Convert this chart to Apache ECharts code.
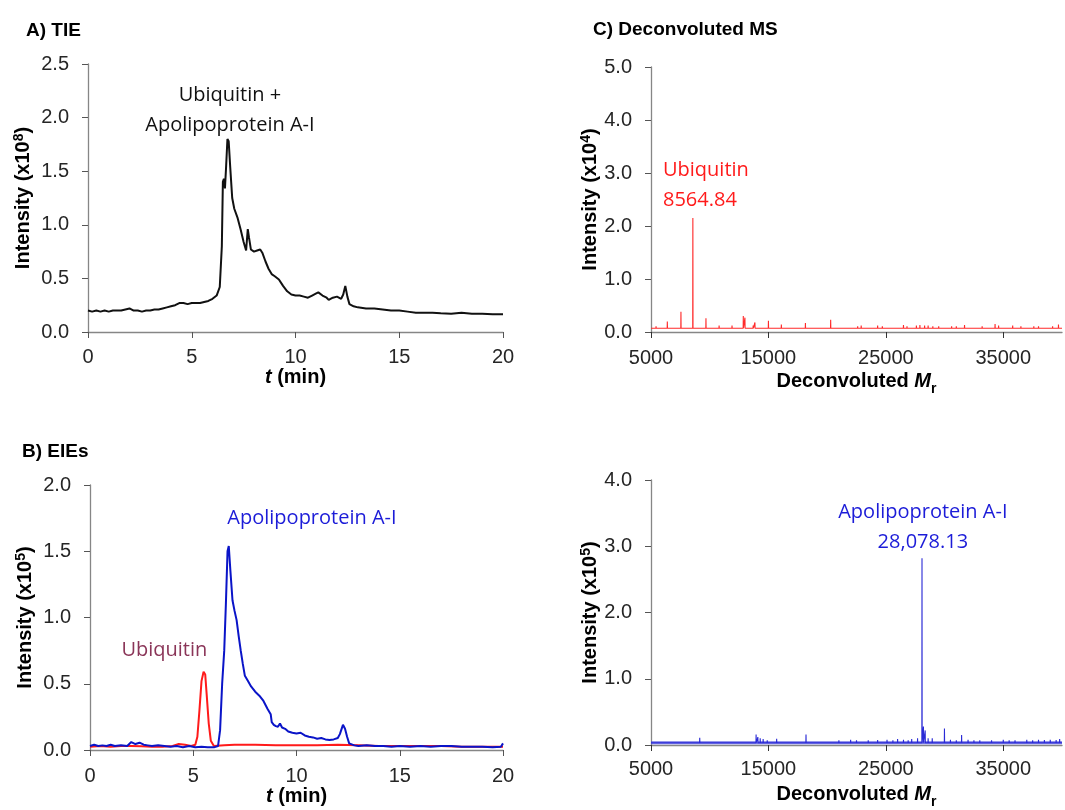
<!DOCTYPE html>
<html>
<head>
<meta charset="utf-8">
<title>TIE / EIE / Deconvoluted MS</title>
<script src="https://cdn.jsdelivr.net/npm/echarts@6.0.0/dist/echarts.min.js"></script>
<style>
  html, body { margin: 0; padding: 0; background: #fff; }
  #chart { width: 1065px; height: 810px; }
</style>
</head>
<body>
<div id="chart"></div>
<script>
// A) TIE  (intensity x10^8)
var tieTime = [0.0, 0.2, 0.4, 0.6, 0.8, 1.0, 1.2, 1.4, 1.6, 1.8, 2.0, 2.2, 2.4, 2.6, 2.8, 3.0, 3.2, 3.4, 3.6, 3.8,
  4.0, 4.2, 4.4, 4.6, 4.8, 5.0, 5.2, 5.4, 5.6, 5.8, 6.0, 6.2, 6.35, 6.45, 6.5, 6.55, 6.6, 6.65, 6.72, 6.78,
  6.85, 6.95, 7.05, 7.2, 7.35, 7.5, 7.62, 7.7, 7.76, 7.85, 8.0, 8.15, 8.3, 8.4, 8.55, 8.7, 8.85, 9.0, 9.2, 9.4,
  9.6, 9.8, 10.0, 10.2, 10.4, 10.6, 10.8, 11.0, 11.1, 11.3, 11.5, 11.6, 11.8, 12.0, 12.2, 12.3, 12.4, 12.5, 12.6, 12.8,
  13.0, 13.4, 13.8, 14.2, 14.6, 15.0, 15.4, 15.8, 16.2, 16.6, 17.0, 17.5, 18.0, 18.5, 19.0, 19.5, 20.0];
var tieInt = [0.20, 0.19, 0.20, 0.19, 0.20, 0.19, 0.20, 0.20, 0.20, 0.21, 0.22, 0.20, 0.20, 0.19, 0.20, 0.20, 0.21, 0.21, 0.22, 0.23,
  0.24, 0.25, 0.27, 0.27, 0.26, 0.27, 0.27, 0.27, 0.28, 0.29, 0.31, 0.34, 0.42, 0.80, 1.40, 1.43, 1.34, 1.52, 1.80, 1.78,
  1.55, 1.25, 1.15, 1.07, 0.96, 0.84, 0.76, 0.96, 0.88, 0.77, 0.75, 0.76, 0.77, 0.74, 0.66, 0.59, 0.54, 0.52, 0.49, 0.43,
  0.38, 0.35, 0.34, 0.34, 0.33, 0.32, 0.34, 0.36, 0.37, 0.34, 0.32, 0.30, 0.32, 0.33, 0.31, 0.35, 0.43, 0.33, 0.26, 0.24,
  0.23, 0.22, 0.22, 0.21, 0.20, 0.20, 0.19, 0.18, 0.18, 0.18, 0.175, 0.17, 0.18, 0.17, 0.17, 0.165, 0.165];

// B) EIEs  (intensity x10^5)
var ubqTime = [0, 0.5, 1, 1.5, 2, 2.5, 3, 3.5, 4, 4.3, 4.6, 4.9, 5.1, 5.2, 5.3, 5.4, 5.5, 5.58, 5.65, 5.75,
  5.85, 6.0, 6.5, 7, 8, 9, 10, 11, 12, 13, 14, 15, 16, 17, 18, 19, 20];
var ubqInt = [0.025, 0.03, 0.025, 0.03, 0.03, 0.028, 0.025, 0.025, 0.03, 0.045, 0.04, 0.03, 0.04, 0.10, 0.30, 0.52, 0.59, 0.57, 0.42, 0.20,
  0.07, 0.03, 0.035, 0.04, 0.04, 0.035, 0.035, 0.035, 0.04, 0.035, 0.03, 0.03, 0.03, 0.03, 0.025, 0.025, 0.025];

var apoTime = [0, 0.2, 0.4, 0.6, 0.8, 1.0, 1.2, 1.5, 1.8, 2.0, 2.2, 2.4, 2.6, 2.8, 3.0, 3.3, 3.6, 3.9, 4.2, 4.5,
  4.8, 5.1, 5.4, 5.7, 6.0, 6.2, 6.3, 6.4, 6.5, 6.58, 6.66, 6.72, 6.8, 6.9, 7.0, 7.1, 7.2, 7.3, 7.4, 7.5,
  7.65, 7.8, 8.0, 8.2, 8.4, 8.6, 8.75, 8.8, 8.9, 9.0, 9.1, 9.2, 9.3, 9.45, 9.6, 9.8, 10.0, 10.2, 10.4, 10.6,
  10.8, 11.0, 11.2, 11.4, 11.6, 11.8, 12.0, 12.1, 12.25, 12.35, 12.45, 12.55, 12.8, 13.0, 13.4, 13.8, 14.2, 14.6, 15.0, 15.5,
  16.0, 16.5, 17.0, 17.5, 18.0, 18.5, 19.0, 19.5, 19.9, 20.0];
var apoInt = [0.03, 0.04, 0.03, 0.035, 0.03, 0.04, 0.03, 0.035, 0.03, 0.06, 0.045, 0.055, 0.04, 0.035, 0.03, 0.035, 0.03, 0.025, 0.03, 0.02,
  0.03, 0.02, 0.025, 0.02, 0.02, 0.03, 0.15, 0.50, 0.75, 1.10, 1.50, 1.54, 1.35, 1.13, 1.05, 0.98, 0.86, 0.75, 0.65, 0.56,
  0.52, 0.48, 0.44, 0.41, 0.37, 0.31, 0.27, 0.21, 0.19, 0.18, 0.175, 0.20, 0.17, 0.16, 0.14, 0.13, 0.125, 0.13, 0.11, 0.10,
  0.095, 0.085, 0.09, 0.08, 0.075, 0.08, 0.09, 0.12, 0.19, 0.16, 0.10, 0.05, 0.035, 0.03, 0.035, 0.03, 0.03, 0.025, 0.03, 0.025,
  0.03, 0.025, 0.03, 0.03, 0.025, 0.025, 0.025, 0.02, 0.025, 0.05];

// C) deconvoluted MS, ubiquitin  (intensity x10^4)
var ubqBase = 0.07;
var ubqMass = [5430, 6390, 7550, 8564.84, 9680, 10800, 11900, 12860, 13000, 13700, 13850, 15000, 16100, 17300, 18150, 19250, 20300,
  21000, 21600, 22300, 22600, 22900, 23500, 24000, 24300, 24700, 25200, 25800, 26500, 26800, 27300, 27600, 27900, 28300, 28600,
  29000, 29500, 29800, 30200, 30600, 31000, 31400, 31700, 32200, 32600, 33200, 33700, 34300, 34600, 35100, 35800, 36200, 36500,
  37200, 37600, 38000, 38400, 38800, 39200, 39700];
var ubqPeak = [0.11, 0.20, 0.38, 2.15, 0.26, 0.12, 0.12, 0.30, 0.27, 0.12, 0.18, 0.21, 0.14, 0.10, 0.17, 0.10, 0.23,
  0.10, 0.09, 0.10, 0.11, 0.12, 0.10, 0.09, 0.12, 0.11, 0.10, 0.09, 0.13, 0.11, 0.10, 0.12, 0.13, 0.12, 0.12,
  0.11, 0.11, 0.10, 0.10, 0.11, 0.11, 0.10, 0.13, 0.10, 0.10, 0.11, 0.10, 0.15, 0.12, 0.10, 0.12, 0.10, 0.11,
  0.10, 0.11, 0.11, 0.10, 0.10, 0.11, 0.14];

// D) deconvoluted MS, apolipoprotein A-I  (intensity x10^5)
var apoBase = 0.035;
var apoMass = [6200, 8200, 9150, 10600, 12800, 13950, 14100, 14300, 14550, 14900, 15700, 16400, 18200, 19000, 19600, 20000, 20500, 21000,
  21500, 22000, 22500, 23000, 23500, 24300, 24800, 25100, 25600, 26000, 26500, 26900, 27200, 27700, 28078.13, 28200, 28350, 28600,
  28950, 29990, 30500, 31000, 31450, 32000, 32500, 33000, 33500, 34000, 34500, 35000, 35500, 36000, 36500, 37000, 37500, 38000,
  38500, 39000, 39500, 39800];
var apoPeak = [0.04, 0.05, 0.11, 0.05, 0.05, 0.16, 0.12, 0.10, 0.09, 0.07, 0.095, 0.05, 0.16, 0.06, 0.05, 0.06, 0.055, 0.07,
  0.06, 0.08, 0.07, 0.06, 0.07, 0.075, 0.065, 0.08, 0.07, 0.09, 0.08, 0.07, 0.09, 0.10, 2.82, 0.28, 0.22, 0.10,
  0.10, 0.25, 0.08, 0.07, 0.15, 0.08, 0.07, 0.07, 0.065, 0.07, 0.065, 0.08, 0.07, 0.07, 0.065, 0.08, 0.07, 0.08,
  0.075, 0.08, 0.075, 0.09];

var massTicks = [5000, 15000, 25000, 35000];

function pairs(xs, ys) {
  var out = [];
  for (var i = 0; i < xs.length; i++) out.push([xs[i], ys[i]]);
  return out;
}

// stick spectrum: baseline with a vertical stem at every peak
function stems(mass, peak, base) {
  var out = [[5000, base]];
  for (var i = 0; i < mass.length; i++) {
    out.push([mass[i] - 12, base], [mass[i], peak[i]], [mass[i] + 12, base]);
  }
  out.push([40000, base]);
  return out;
}

var labelFont = "'Liberation Sans', Arial, sans-serif";
var noteFont = "'Open Sans', Lato, sans-serif";
var axisGray = "#868686";

var nameRich = {
  b: { fontFamily: labelFont, fontSize: 20, fontWeight: "bold", color: "#000", lineHeight: 22 },
  i: { fontFamily: labelFont, fontSize: 20, fontWeight: "bold", fontStyle: "italic", color: "#000", lineHeight: 22 },
  s: { fontFamily: labelFont, fontSize: 14, fontWeight: "bold", color: "#000", lineHeight: 30, verticalAlign: "bottom" },
  p: { fontFamily: labelFont, fontSize: 14, fontWeight: "bold", color: "#000", lineHeight: 22, verticalAlign: "top" }
};

function yAxis(idx, max, interval, exp) {
  return {
    type: "value", gridIndex: idx, min: 0, max: max, interval: interval,
    name: "{b|Intensity (x10}{p|" + exp + "}{b|)}", nameLocation: "middle", nameGap: idx < 2 ? 54 : 50,
    nameTextStyle: { rich: nameRich },
    axisLine: { show: true, lineStyle: { color: axisGray, width: 1.3 } },
    axisTick: { show: true, length: 6, lineStyle: { color: "#555" } },
    axisLabel: { fontFamily: labelFont, fontSize: 20, color: "#262626", margin: 19,
      formatter: function (v) { return v.toFixed(1); } },
    splitLine: { show: false }
  };
}

var timeName = "{i|t}{b| (min)}";
var massName = "{b|Deconvoluted }{i|M}{s|r}";

function timeAxis(idx, gap, margin) {
  return {
    type: "value", gridIndex: idx, min: 0, max: 20, interval: 5,
    name: timeName, nameLocation: "middle", nameGap: gap,
    nameTextStyle: { rich: nameRich },
    axisLine: { show: true, onZero: false, lineStyle: { color: axisGray, width: 1.3 } },
    axisTick: { show: true, length: 6, lineStyle: { color: "#555" } },
    axisLabel: { fontFamily: labelFont, fontSize: 20, color: "#262626", margin: margin },
    splitLine: { show: false }
  };
}

function massAxis(idx, gap, margin) {
  return {
    type: "value", gridIndex: idx, min: 5000, max: 40000, interval: 5000,
    name: massName, nameLocation: "middle", nameGap: gap,
    nameTextStyle: { rich: nameRich },
    axisLine: { show: true, onZero: false, lineStyle: { color: axisGray, width: 1.3 } },
    axisTick: { show: true, length: 6, customValues: massTicks, lineStyle: { color: "#333" } },
    axisLabel: { fontFamily: labelFont, fontSize: 20, color: "#262626", margin: margin, customValues: massTicks,
      formatter: function (v) { return String(v); } },
    splitLine: { show: false }
  };
}

function note(coord, text, color, align) {
  return {
    coord: coord, symbolSize: 0, itemStyle: { color: "transparent" },
    label: { show: true, position: "inside", formatter: text, align: align || "center",
      fontFamily: noteFont, fontSize: 20, lineHeight: 30, color: color }
  };
}

var chart = echarts.init(document.getElementById("chart"));

var option = {
  backgroundColor: "#fff",
  animation: false,
  title: [
    { text: "A) TIE", left: 21, top: 16 },
    { text: "B) EIEs", left: 17, top: 437 },
    { text: "C) Deconvoluted MS", left: 588, top: 15 }
  ].map(function (t) {
    t.textStyle = { fontFamily: labelFont, fontSize: 19, fontWeight: "bold", color: "#000" };
    return t;
  }),
  grid: [
    { left: 88, top: 64, width: 415, height: 268 },
    { left: 90, top: 485, width: 413, height: 265 },
    { left: 651, top: 67, width: 411, height: 265 },
    { left: 651, top: 480, width: 411, height: 266 }
  ],
  xAxis: [
    timeAxis(0, 33, 15),
    timeAxis(1, 35, 16),
    massAxis(2, 34, 16),
    massAxis(3, 34, 14)
  ],
  yAxis: [
    yAxis(0, 2.5, 0.5, "8"),
    yAxis(1, 2.0, 0.5, "5"),
    yAxis(2, 5.0, 1, "4"),
    yAxis(3, 4.0, 1, "5")
  ],
  series: [
    {
      name: "TIE", type: "line", xAxisIndex: 0, yAxisIndex: 0, data: pairs(tieTime, tieInt),
      symbol: "none", lineStyle: { color: "#111", width: 2 },
      markPoint: { data: [note([6.84, 2.07], "Ubiquitin +\nApolipoprotein A-I", "#111")] }
    },
    {
      name: "Ubiquitin EIE", type: "line", xAxisIndex: 1, yAxisIndex: 1, data: pairs(ubqTime, ubqInt),
      symbol: "none", lineStyle: { color: "#ff1a1a", width: 2 },
      markPoint: { data: [note([3.6, 0.755], "Ubiquitin", "#8a3558")] }
    },
    {
      name: "Apolipoprotein A-I EIE", type: "line", xAxisIndex: 1, yAxisIndex: 1, data: pairs(apoTime, apoInt),
      symbol: "none", lineStyle: { color: "#0a14c8", width: 2 },
      markPoint: { data: [note([10.75, 1.75], "Apolipoprotein A-I", "#1c1cd8")] }
    },
    {
      name: "Ubiquitin MS", type: "line", xAxisIndex: 2, yAxisIndex: 2, data: stems(ubqMass, ubqPeak, ubqBase),
      symbol: "none", lineStyle: { color: "#ff2a2a", width: 1.1 },
      markPoint: { data: [note([6020, 2.77], "Ubiquitin\n8564.84", "#ff1a1a", "left")] }
    },
    {
      name: "Apo MS baseline", type: "line", xAxisIndex: 3, yAxisIndex: 3, data: [[5000, apoBase], [40000, apoBase]],
      symbol: "none", lineStyle: { color: "rgba(70,70,220,0.75)", width: 3 }
    },
    {
      name: "Apolipoprotein A-I MS", type: "line", xAxisIndex: 3, yAxisIndex: 3, data: stems(apoMass, apoPeak, apoBase),
      symbol: "none", lineStyle: { color: "#2b2bd6", width: 1.1 },
      markPoint: { data: [note([28150, 3.29], "Apolipoprotein A-I\n28,078.13", "#1c1cd8")] }
    }
  ]
};

chart.setOption(option);
</script>
</body>
</html>
